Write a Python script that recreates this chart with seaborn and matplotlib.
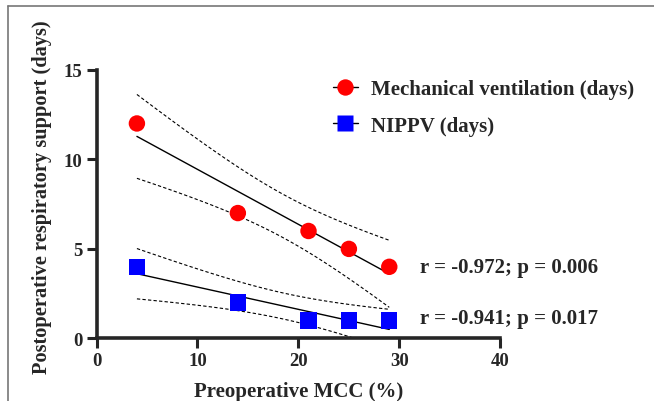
import numpy as np
import pandas as pd
import seaborn as sns
import matplotlib.pyplot as plt
from matplotlib.lines import Line2D

# data
mcc = [4, 14, 21, 25, 29]
mech_vent = [12, 7, 6, 5, 4]
nippv = [4, 2, 1, 1, 1]
series_names = ['Mechanical ventilation (days)', 'NIPPV (days)']
stats_text = ['r = -0.972; p = 0.006', 'r = -0.941; p = 0.017']
colors = ['#ff0000', '#0000ff']
markers = ['o', 's']

sns.set_style('ticks')
plt.rcParams['font.family'] = ['Liberation Serif', 'DejaVu Serif']
plt.rcParams['font.weight'] = 'bold'

df = pd.DataFrame({'mcc': mcc, 'mech': mech_vent, 'nippv': nippv})

fig = plt.figure(figsize=(6.54, 4.02), dpi=100)
ax = fig.add_axes([0.1476, 0.1555, 0.765 - 0.1476, 0.8241 - 0.1555])


def ci_band(x, y):
    # 95% confidence band of the fitted line
    x = np.asarray(x, float)
    y = np.asarray(y, float)
    n = len(x)
    b, a = np.polyfit(x, y, 1)
    resid = y - (a + b * x)
    s = np.sqrt(np.sum(resid ** 2) / (n - 2))
    sxx = np.sum((x - x.mean()) ** 2)
    xs = np.linspace(x.min(), x.max(), 100)
    se = s * np.sqrt(1 / n + (xs - x.mean()) ** 2 / sxx)
    t = 3.182  # t(0.975, 3)
    fit = a + b * xs
    return xs, fit - t * se, fit + t * se


for col, c, m in zip(['mech', 'nippv'], colors, markers):
    sns.regplot(x='mcc', y=col, data=df, ax=ax, scatter=False, ci=None,
                truncate=True, line_kws={'color': 'black', 'lw': 1.0})
    xs, lo, hi = ci_band(df['mcc'], df[col])
    ax.plot(xs, lo, color='black', lw=0.8, ls=(0, (3, 2)))
    ax.plot(xs, hi, color='black', lw=0.8, ls=(0, (3, 2)))
    sns.scatterplot(x='mcc', y=col, data=df, ax=ax, color=c, marker=m,
                    s=140, edgecolor='none', zorder=5, clip_on=False)

ax.set_xlim(0, 40)
ax.set_ylim(0, 15)
ax.set_xticks([0, 10, 20, 30, 40])
ax.set_yticks([0, 5, 10, 15])
sns.despine(ax=ax)
for sp in ['left', 'bottom']:
    ax.spines[sp].set_linewidth(2.6)
ax.tick_params(width=2.2, length=7, labelsize=13.5, pad=3)
for lab in ax.get_xticklabels() + ax.get_yticklabels():
    lab.set_fontweight('bold')

ax.set_xlabel('')
ax.set_ylabel('')
fig.text(299 / 654, 1 - 392 / 402, 'Preoperative MCC (%)', ha='center', va='center',
         fontsize=15, fontweight='bold')
fig.text(42 / 654, 1 - 197 / 402, 'Postoperative respiratory support (days)', rotation=90,
         ha='center', va='center', fontsize=14.7, fontweight='bold')

# stats labels
fig.text(420 / 654, 1 - 268 / 402, stats_text[0], ha='left', va='center',
         fontsize=15, fontweight='bold')
fig.text(420 / 654, 1 - 319 / 402, stats_text[1], ha='left', va='center',
         fontsize=15, fontweight='bold')

handles = [Line2D([], [], color='black', lw=1.0, marker=m, markersize=11.8,
                  markerfacecolor=c, markeredgecolor='none')
           for c, m in zip(colors, markers)]
fig.legend(handles, series_names, loc='center left',
           bbox_to_anchor=(314 / 654, 1 - 108.5 / 402), frameon=False,
           prop={'size': 15, 'weight': 'bold'}, handlelength=1.2,
           handletextpad=0.63, labelspacing=0.78)

# gray frame of the original figure (top and left only)
fig.add_artist(Line2D([8 / 654, 1], [1 - 7 / 402, 1 - 7 / 402], color='#777777', lw=1.2))
fig.add_artist(Line2D([8 / 654, 8 / 654], [1 - 7 / 402, 0], color='#777777', lw=1.2))

fig.savefig('out.png', dpi=100)
